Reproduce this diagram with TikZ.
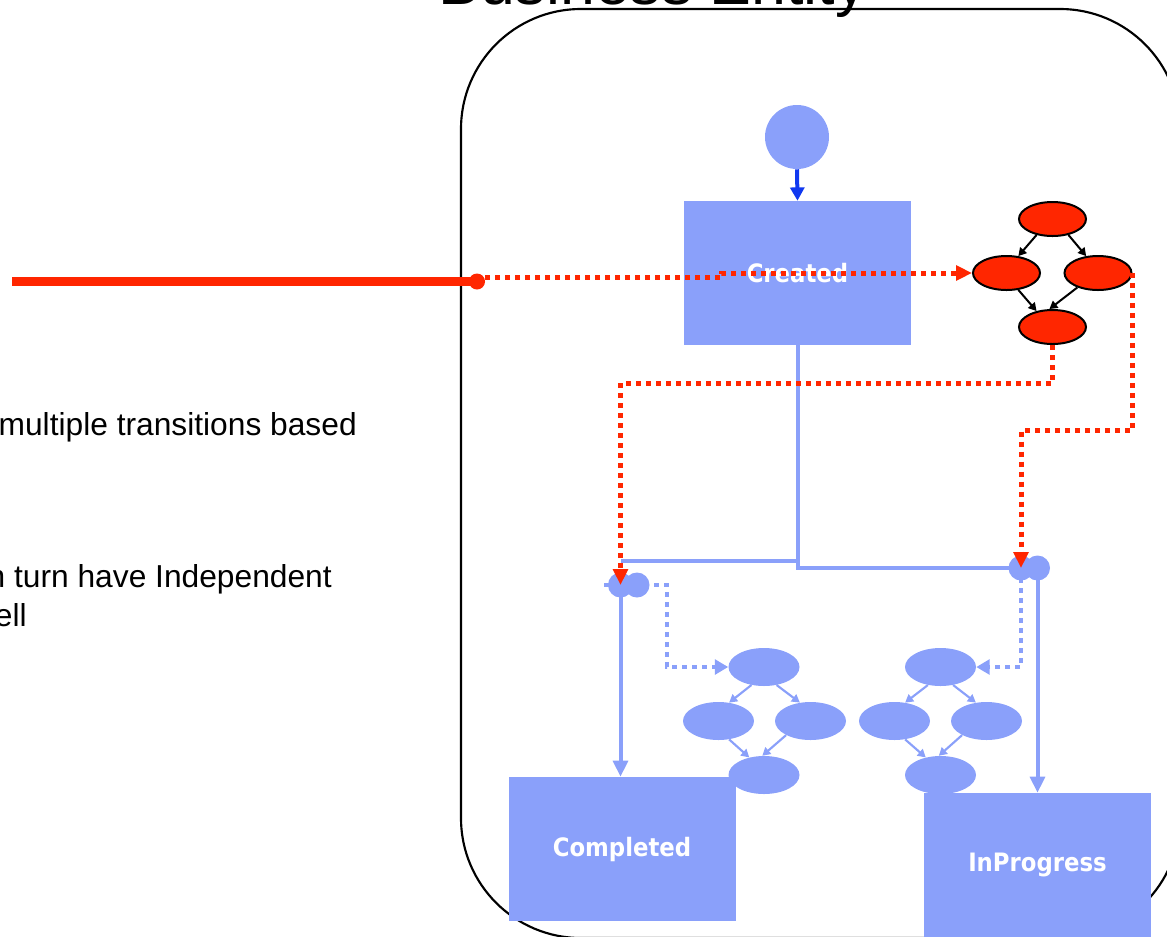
\documentclass[tikz,border=0pt]{standalone}
\usepackage{fontspec}
\setmainfont{Liberation Sans}
\newfontfamily\statefont{DejaVu Sans Condensed}
\usetikzlibrary{arrows.meta,shapes.geometric}

\definecolor{stateblue}{RGB}{138,160,250}
\definecolor{flowred}{RGB}{255,38,0}
\definecolor{initblue}{RGB}{16,56,240}
\definecolor{framegray}{RGB}{0,0,0}

\begin{document}
\begin{tikzpicture}[x=0.75pt,y=-0.75pt,
  statebox/.style={fill=stateblue, inner sep=0, minimum width=227*0.75pt,
    minimum height=144*0.75pt, text=white,
    font=\statefont\bfseries\fontsize{19}{22}\selectfont},
  subnode/.style={ellipse, fill=stateblue, inner sep=0,
    minimum width=71*0.75pt, minimum height=38*0.75pt},
  redstate/.style={ellipse, draw=black, line width=1.5pt, fill=flowred,
    inner sep=0, minimum width=67*0.75pt, minimum height=34*0.75pt},
  junction/.style={circle, fill=stateblue, inner sep=0, minimum size=25*0.75pt},
  initdot/.style={circle, fill=stateblue, inner sep=0, minimum size=64*0.75pt},
  bigtip/.style={-{Triangle[length=12pt,width=11pt]}},
  bluesolid/.style={draw=stateblue, line width=3pt},
  bluedot/.style={draw=stateblue, line width=3.5pt, dash pattern=on 3.75pt off 3.75pt},
  reddot/.style={draw=flowred, line width=3.75pt, dash pattern=on 3.75pt off 3.75pt},
  redsolid/.style={draw=flowred, line width=6.2pt},
  blackarrow/.style={draw=black, line width=1.5pt, -{Triangle[length=6pt,width=6.5pt]}},
  bluearrow/.style={draw=stateblue, line width=1.6pt, -{Triangle[length=6pt,width=6.5pt]}},
  sidetext/.style={anchor=base east, inner sep=0, font=\fontsize{23.8}{28}\selectfont},
]
\useasboundingbox (0,0) rectangle (1167,936);

% container and its heading
\node[draw=framegray, line width=1.6pt, rounded corners=90pt, inner sep=0,
  minimum width=719*0.75pt, minimum height=929*0.75pt] (entity) at (820.5,473.5) {};
\node[anchor=base, inner sep=0, font=\fontsize{47}{56}\selectfont] (title) at (652.5,4) {Business Entity};

% explanatory text on the left
\node[sidetext] (t1) at (357,435) {multiple transitions based};
\node[sidetext] (t2) at (332,587) {in turn have Independent};
\node[sidetext] (t3) at (27,626) {well};

% states
\node[initdot] (init) at (797,137) {};
\node[statebox] (created) at (797.5,273) {Created};
\node[statebox] (completed) at (622,849) {Completed};
\node[statebox] (inprog) at (1037.5,865) {InProgress};

% red sub-flow
\node[redstate] (ea) at (1052.5,219) {};
\node[redstate] (eb) at (1006.5,273) {};
\node[redstate] (ec) at (1098,273) {};
\node[redstate] (ed) at (1052.5,327) {};

% blue sub-flows
\node[subnode] (la) at (764,667) {};
\node[subnode] (lb) at (718.5,721) {};
\node[subnode] (lc) at (810.5,721) {};
\node[subnode] (ld) at (764,775) {};
\node[subnode] (ra) at (940.5,667) {};
\node[subnode] (rb) at (894.5,721) {};
\node[subnode] (rc) at (986.5,721) {};
\node[subnode] (rd) at (940.5,775) {};

% junction positions
\coordinate (jl) at (620.5,585);
\coordinate (jlb) at (637,585);
\coordinate (jr) at (1021,568);
\coordinate (jrb) at (1037.5,568);
\coordinate (ltap) at (604,585);
\coordinate (lbend) at (667,585);
\coordinate (lsplit) at (797.5,561);
\coordinate (rowA) at (0,383);
\coordinate (rowB) at (0,430);
\coordinate (step) at (721,277.5);
\coordinate (feed) at (12,281.5);

% initial transition
\draw[initblue, line width=3pt, -{Triangle[length=10pt,width=10.5pt]}] (init.south) -- (created.north);

% inner arrows of the sub-flows
\draw[blackarrow] (ea.225) -- (eb.55);
\draw[blackarrow] (ea.315) -- (ec.125);
\draw[blackarrow] (eb.305) -- (ed.135);
\draw[blackarrow] (ec.215) -- (ed.100);

\draw[bluearrow] (la.235) -- (lb.60);
\draw[bluearrow] (la.305) -- (lc.120);
\draw[bluearrow] (lb.300) -- (ld.130);
\draw[bluearrow] (lc.210) -- (ld.95);
\draw[bluearrow] (ra.235) -- (rb.60);
\draw[bluearrow] (ra.305) -- (rc.120);
\draw[bluearrow] (rb.300) -- (rd.130);
\draw[bluearrow] (rc.210) -- (rd.95);

% dotted links into the blue sub-flows
\draw[bluedot, -{Triangle[length=10pt,width=11pt]}] (ltap) -- (lbend) -- (lbend |- la.west) -- (la.west);
\draw[bluedot, -{Triangle[length=10pt,width=11pt]}] (jr) -- (jr |- ra.east) -- (ra.east);

% solid transitions out of Created
\draw[bluesolid] (created.south) -- (created.south |- jr) -- (jr);
\draw[bluesolid] (lsplit) -- (lsplit -| jl);
\draw[bluesolid, bigtip] (jl) -- (jl |- completed.north);
\draw[bluesolid, bigtip] (jrb) -- (jrb |- inprog.north);

% junction points
\node[junction] (jl1) at (jl) {};
\node[junction] (jl2) at (jlb) {};
\node[junction] (jr1) at (jr) {};
\node[junction] (jr2) at (jrb) {};

% incoming red flow
\node[circle, fill=flowred, inner sep=0, minimum size=16*0.75pt] (src) at (477,281.5) {};
\draw[redsolid] (feed) -- (src.center);
\draw[reddot, bigtip] (src.east |- step) -- (step) -- (step |- eb.west) -- (eb.west);
\draw[reddot, bigtip] (ed.south) -- (ed.south |- rowA) -- (rowA -| jl1.center) -- (jl1.center);
\draw[reddot, bigtip] (ec.east) -- (ec.east |- rowB) -- (rowB -| jr1.center) -- (jr1.center);
\end{tikzpicture}
\end{document}
